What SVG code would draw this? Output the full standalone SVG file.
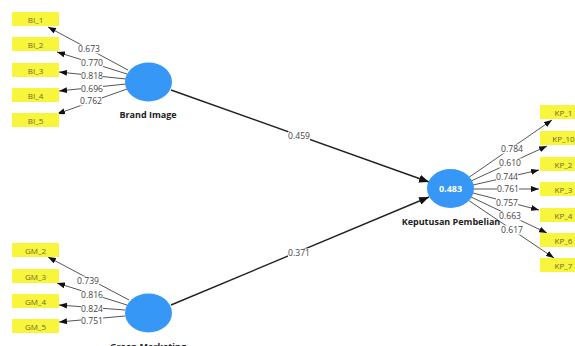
<svg xmlns="http://www.w3.org/2000/svg" width="575" height="346" viewBox="0 0 575 346">
  <style>
    .ind rect { fill: #f7f53c; }
    .ind text { font-family: "Open Sans", "Noto Sans", sans-serif; font-size: 8px; fill: #6b6b3a; text-anchor: middle; dominant-baseline: central; }
    .lv ellipse { fill: #3797f7; }
    .lv text.name { font-family: "Open Sans", "Noto Sans", sans-serif; font-size: 9px; font-weight: bold; fill: #222; text-anchor: middle; }
    .lv text.r2 { font-family: "Open Sans", "Noto Sans", sans-serif; font-size: 9px; font-weight: bold; fill: #fff; text-anchor: middle; dominant-baseline: central; }
    .load { stroke: #555; stroke-width: 1; fill: none; marker-end: url(#ah); }
    .path { stroke: #222; stroke-width: 1.4; fill: none; marker-end: url(#ahp); }
    .wb { fill: #fff; }
    .w { font-family: "Open Sans", "Noto Sans", sans-serif; font-size: 8.6px; fill: #444; text-anchor: middle; dominant-baseline: central; }
  </style>
  <defs>
    <marker id="ah" markerUnits="userSpaceOnUse" markerWidth="8" markerHeight="6" refX="8" refY="3" orient="auto">
      <path d="M0,0 L8,3 L0,6 Z" fill="#111"/>
    </marker>
    <marker id="ahp" markerUnits="userSpaceOnUse" markerWidth="10" markerHeight="8" refX="10" refY="4" orient="auto">
      <path d="M0,0 L10,4 L0,8 Z" fill="#111"/>
    </marker>
    <!-- backing plate for a weight label -->
    <rect id="plate" class="wb" x="-11" y="-4.5" width="22" height="9"/>
  </defs>
  <rect width="575" height="346" fill="#fff"/>

  <!-- connectors -->
  <g id="connectors">
    <!-- structural paths -->
    <line class="path" x1="171" y1="90" x2="429" y2="182"/>
    <line class="path" x1="171" y1="305" x2="429" y2="197"/>
    <!-- Brand Image loadings -->
    <line class="load" x1="128" y1="70" x2="48" y2="27"/>
    <line class="load" x1="127" y1="74" x2="57" y2="52"/>
    <line class="load" x1="126" y1="79" x2="59" y2="72"/>
    <line class="load" x1="126" y1="84" x2="59" y2="91"/>
    <line class="load" x1="127" y1="89" x2="57" y2="114"/>
    <!-- Green Marketing loadings -->
    <line class="load" x1="129" y1="300" x2="48" y2="257"/>
    <line class="load" x1="127" y1="305" x2="57" y2="283"/>
    <line class="load" x1="125" y1="310" x2="59" y2="305"/>
    <line class="load" x1="125" y1="316" x2="59" y2="322"/>
    <!-- Keputusan Pembelian loadings -->
    <line class="load" x1="468" y1="178" x2="552" y2="120"/>
    <line class="load" x1="471" y1="181" x2="547" y2="146"/>
    <line class="load" x1="473" y1="185" x2="539" y2="170"/>
    <line class="load" x1="474" y1="189" x2="539" y2="189"/>
    <line class="load" x1="473" y1="193" x2="539" y2="210"/>
    <line class="load" x1="471" y1="197" x2="547" y2="233"/>
    <line class="load" x1="468" y1="200" x2="554" y2="258"/>
    <!-- weights -->
    <g transform="translate(299,136)"><use href="#plate"/><text class="w">0.459</text></g>
    <g transform="translate(299,253)"><use href="#plate"/><text class="w">0.371</text></g>
    <g transform="translate(89,49)"><use href="#plate"/><text class="w">0.673</text></g>
    <g transform="translate(92,63)"><use href="#plate"/><text class="w">0.770</text></g>
    <g transform="translate(92,76)"><use href="#plate"/><text class="w">0.818</text></g>
    <g transform="translate(92,89)"><use href="#plate"/><text class="w">0.696</text></g>
    <g transform="translate(91,101)"><use href="#plate"/><text class="w">0.762</text></g>
    <g transform="translate(88,281)"><use href="#plate"/><text class="w">0.739</text></g>
    <g transform="translate(92,295)"><use href="#plate"/><text class="w">0.816</text></g>
    <g transform="translate(92,308.5)"><use href="#plate"/><text class="w">0.824</text></g>
    <g transform="translate(92,320.5)"><use href="#plate"/><text class="w">0.751</text></g>
    <g transform="translate(512,149)"><use href="#plate"/><text class="w">0.784</text></g>
    <g transform="translate(510,163)"><use href="#plate"/><text class="w">0.610</text></g>
    <g transform="translate(507,176.5)"><use href="#plate"/><text class="w">0.744</text></g>
    <g transform="translate(508,189)"><use href="#plate"/><text class="w">0.761</text></g>
    <g transform="translate(507,202.5)"><use href="#plate"/><text class="w">0.757</text></g>
    <g transform="translate(510,216)"><use href="#plate"/><text class="w">0.663</text></g>
    <g transform="translate(512,230)"><use href="#plate"/><text class="w">0.617</text></g>
  </g>

  <!-- latent variables -->
  <g id="brand-image" class="lv">
    <ellipse cx="148.5" cy="82" rx="23.5" ry="19.5"/>
    <text class="name" x="148" y="118">Brand Image</text>
  </g>
  <g id="green-marketing" class="lv">
    <ellipse cx="148.5" cy="313" rx="23.5" ry="19.5"/>
    <text class="name" x="148" y="350">Green Marketing</text>
  </g>
  <g id="keputusan-pembelian" class="lv">
    <ellipse cx="450.5" cy="188.5" rx="23.5" ry="19.5"/>
    <text class="r2" x="450.5" y="188.5">0.483</text>
    <text class="name" x="451" y="225">Keputusan Pembelian</text>
  </g>

  <!-- indicators -->
  <g id="BI_1" class="ind"><rect x="12" y="12" width="47" height="14"/><text x="35.5" y="19">BI_1</text></g>
  <g id="BI_2" class="ind"><rect x="12" y="37" width="47" height="14"/><text x="35.5" y="44">BI_2</text></g>
  <g id="BI_3" class="ind"><rect x="12" y="63" width="47" height="14"/><text x="35.5" y="70">BI_3</text></g>
  <g id="BI_4" class="ind"><rect x="12" y="88" width="47" height="14"/><text x="35.5" y="95">BI_4</text></g>
  <g id="BI_5" class="ind"><rect x="12" y="113" width="47" height="14"/><text x="35.5" y="120">BI_5</text></g>

  <g id="GM_2" class="ind"><rect x="12" y="243" width="47" height="14"/><text x="35.5" y="250">GM_2</text></g>
  <g id="GM_3" class="ind"><rect x="12" y="269" width="47" height="14"/><text x="35.5" y="276">GM_3</text></g>
  <g id="GM_4" class="ind"><rect x="12" y="294" width="47" height="14"/><text x="35.5" y="301">GM_4</text></g>
  <g id="GM_5" class="ind"><rect x="12" y="319" width="47" height="14"/><text x="35.5" y="326">GM_5</text></g>

  <g id="KP_1" class="ind"><rect x="540" y="105" width="47" height="14"/><text x="563.5" y="112">KP_1</text></g>
  <g id="KP_10" class="ind"><rect x="540" y="131" width="47" height="14"/><text x="563.5" y="138">KP_10</text></g>
  <g id="KP_2" class="ind"><rect x="540" y="157" width="47" height="14"/><text x="563.5" y="164">KP_2</text></g>
  <g id="KP_3" class="ind"><rect x="540" y="182" width="47" height="14"/><text x="563.5" y="189">KP_3</text></g>
  <g id="KP_4" class="ind"><rect x="540" y="208" width="47" height="14"/><text x="563.5" y="215">KP_4</text></g>
  <g id="KP_6" class="ind"><rect x="540" y="233" width="47" height="14"/><text x="563.5" y="240">KP_6</text></g>
  <g id="KP_7" class="ind"><rect x="540" y="258" width="47" height="14"/><text x="563.5" y="265">KP_7</text></g>
</svg>
